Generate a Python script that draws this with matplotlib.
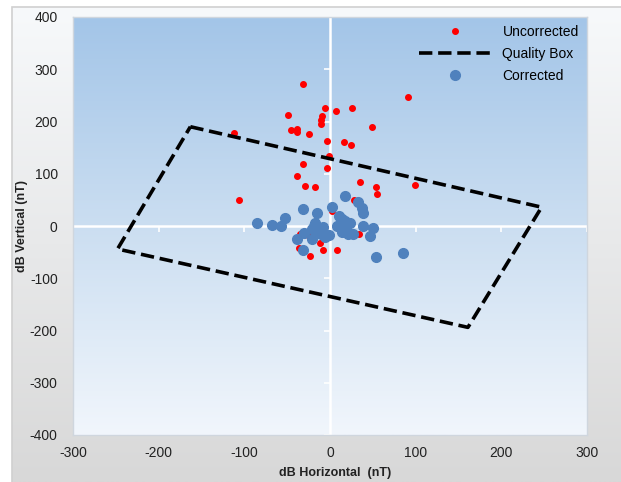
import matplotlib
matplotlib.use("Agg")
from matplotlib import pyplot as plt
from matplotlib.colors import LinearSegmentedColormap
from matplotlib.patches import Rectangle
import numpy as np

plt.rcParams.update({"font.family": ["Liberation Sans", "DejaVu Sans"]})
plt.rcParams.update({"font.size": 10})
plt.rcParams.update({"axes.unicode_minus": False})

# uncorrected points (dB horizontal, dB vertical) in nT
unc_x = [-31, 91, -6, 7, 26, -49, -9, -10.5, -10.5, 49, -46, -38.5, -38.5, -24.5,
         -112, -4, 16, 24, -1, -32, -3, -38.5, 35, -29, -18, 54, 55, 99, -106,
         28, 2, -35, -25, 34, -12, -8, 8, -36, -23]
unc_y = [272, 246, 226, 221, 226, 213, 211, 203, 196, 190, 183, 185, 180, 176,
         178, 162, 160, 155, 134, 119, 111, 96.5, 84, 76, 74, 74, 61, 79, 49.5,
         49, 29, -14.6, -19, -15, -33, -46, -46, -43, -58]

# corrected points
cor_x = [-85, -68, -57, -52, -31, -15, 2, 17.5, 33, 37, 39, 10, 13.6, 17.5, 23,
         8, 15.5, 11.7, 19, 13.6, 27, 21, 38, 50, 47, 54, 85, -17.5, -19, -8,
         -21, -14, -10, -1, -6, -30, -39, -21, -32]
cor_y = [5, 2.5, 0, 16, 33, 25, 36, 58, 46, 35, 25, 19, 12.7, 9.5, 6, 0, 0, 3,
         -8, -11, -14.6, -14.6, 0, -3, -20, -59, -51, 6, 0, -2, -6, -9.5, -16,
         -18, -22, -12.7, -25, -25, -46]

# quality box corners
box_x = [-163, 247, 161, -248, -163]
box_y = [190, 36, -194, -44, 190]

xticks = [-300, -200, -100, 0, 100, 200, 300]
yticks = [-400, -300, -200, -100, 0, 100, 200, 300, 400]

fig = plt.figure(figsize=(6.21, 4.82), dpi=100)

# chart area background (white top -> gray bottom) with a thin frame
bg = fig.add_axes([0, 0, 1, 1], zorder=-10)
grad = np.linspace(0, 1, 256).reshape(-1, 1)
bg_cmap = LinearSegmentedColormap.from_list("bg", ["#f7f9fb", "#e8e9ea", "#d8d8d8"])
bg.imshow(grad, aspect="auto", cmap=bg_cmap, extent=[12 / 621, 1, 0, 1 - 7 / 482])
bg.add_patch(Rectangle((12 / 621, -0.01), 1, 1 - 7 / 482 + 0.01,
                       fill=False, ec="#d0d0d0", lw=1.2))
bg.set_xlim(0, 1)
bg.set_ylim(0, 1)
bg.axis("off")

ax = fig.add_axes([73 / 621, 1 - 435 / 482, 514 / 621, 418 / 482])
ax.set_xlim(-300, 300)
ax.set_ylim(-400, 400)

# plot area gradient
pa_cmap = LinearSegmentedColormap.from_list("pa", ["#f1f6fc", "#cbdef1", "#a3c5e8"])
ax.imshow(grad, aspect="auto", cmap=pa_cmap, origin="lower",
          extent=[-300, 300, -400, 400], zorder=0)

# white zero axes with small tick marks
ax.axhline(0, color="white", lw=1.8, zorder=1)
ax.axvline(0, color="white", lw=1.8, zorder=1)
ax.plot(xticks, [0] * len(xticks), ls="none", marker=3, ms=4, mew=1.2,
        color="white", zorder=1)
ax.plot([0] * len(yticks), yticks, ls="none", marker=0, ms=4, mew=1.2,
        color="white", zorder=1)

ax.plot(unc_x, unc_y, ls="none", marker="o", ms=4, color="#ff0000",
        mec="#ff0000", label="Uncorrected", zorder=3)
ax.plot(box_x, box_y, color="black", ls="--", lw=2.6, label="Quality Box",
        zorder=3)
ax.plot(cor_x, cor_y, ls="none", marker="o", ms=7, color="#4f81bd",
        mec="#4f81bd", label="Corrected", zorder=4)

for s in ax.spines.values():
    s.set_color("#cfd6de")
    s.set_linewidth(1)

ax.set_xticks(xticks)
ax.set_yticks(yticks)
ax.tick_params(length=0, labelsize=10, colors="#222222")
ax.tick_params(axis="y", pad=11)
ax.tick_params(axis="x", pad=8)

ax.set_xlabel("dB Horizontal  (nT)", fontsize=9, fontweight="bold", color="#222222")
ax.set_ylabel("dB Vertical (nT)", fontsize=9, fontweight="bold", color="#222222")
ax.xaxis.set_label_coords(0.51, -0.077)
ax.yaxis.set_label_coords(-0.088, 0.5)

ax.legend(loc="upper right", frameon=False, fontsize=10, handlelength=5.2,
          borderaxespad=0.2, labelspacing=0.55, bbox_to_anchor=(1.0, 1.0))

fig.savefig("out.png", dpi=100)
